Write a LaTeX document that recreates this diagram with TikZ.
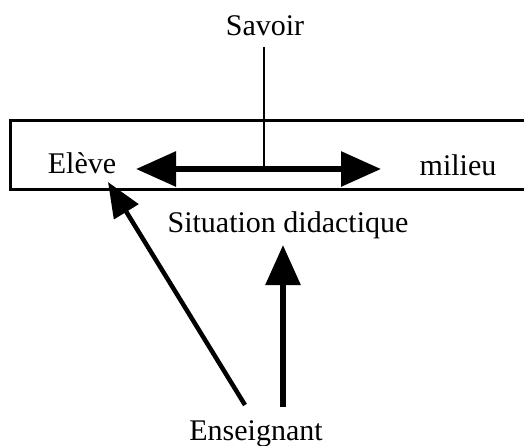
\documentclass[tikz,border=0pt]{standalone}
\usepackage{fontspec}
\setmainfont{Liberation Serif}
\usetikzlibrary{arrows.meta}
\begin{document}
\begin{tikzpicture}[x=1pt,y=-1pt,
  lbl/.style={anchor=base,inner sep=0pt,font=\fontsize{30}{34}\selectfont},
  bigarrow/.style={line width=6pt,-{Triangle[length=40pt,width=34pt]}},
  diagarrow/.style={line width=4.5pt,-{Triangle[length=35pt,width=28pt]}}]
\clip (0,0) rectangle (524,445);
\useasboundingbox (0,0) rectangle (524,445);
\draw[line width=3pt] (10,120) rectangle (540,189);
\node[lbl] (savoir) at (265,35) {Savoir};
\node[lbl] (eleve) at (82,173) {Elève};
\node[lbl] (milieu) at (458,175) {milieu};
\node[lbl] (situation) at (288,232) {Situation didactique};
\node[lbl] (enseignant) at (256,440) {Enseignant};
\coordinate (hl) at (136,169);
\coordinate (hr) at (381,169);
\coordinate (hm) at (264,169);
\coordinate (sv) at (264,47);
\coordinate (etip) at (108,182);
\coordinate (ediag) at (245,405);
\coordinate (vtop) at (283,245);
\coordinate (vbot) at (283,407);
\draw[line width=2.5pt] (sv) -- (hm);
\draw[line width=6pt,{Triangle[length=40pt,width=34pt]}-{Triangle[length=40pt,width=34pt]}] (hl) -- (hr);
\draw[diagarrow] (ediag) -- (etip);
\draw[bigarrow] (vbot) -- (vtop);
\end{tikzpicture}
\end{document}
